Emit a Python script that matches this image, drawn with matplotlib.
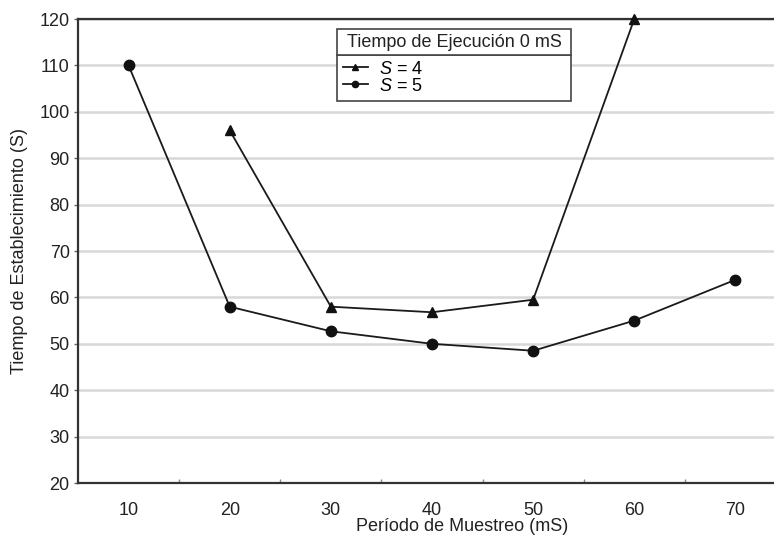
import matplotlib
matplotlib.use("Agg")
import matplotlib.pyplot as plt
from matplotlib.patches import Rectangle

# Data
periodo = [10, 20, 30, 40, 50, 60, 70]
s4_x = [20, 30, 40, 50, 60]
s4_y = [96, 58, 56.8, 59.5, 120]
s5_x = [10, 20, 30, 40, 50, 60, 70]
s5_y = [110, 58, 52.7, 50, 48.5, 55, 63.8]
y_ticks = [20, 30, 40, 50, 60, 70, 80, 90, 100, 110, 120]
x_labels = ["10", "20", "30", "40", "50", "60", "70"]

plt.rcParams['font.family'] = ['Liberation Sans', 'DejaVu Sans']
plt.rcParams['mathtext.fontset'] = 'custom'
plt.rcParams['mathtext.it'] = 'Liberation Sans:italic'
plt.rcParams['mathtext.rm'] = 'Liberation Sans'

W, H = 774, 538
fig = plt.figure(figsize=(W / 100, H / 100), dpi=100)

def fx(px):
    return px / W

def fy(py):
    return 1 - py / H

left, right, top, bottom = 78, 786, 19, 483
ax = fig.add_axes([fx(left), fy(bottom), fx(right) - fx(left), fy(top) - fy(bottom)])

spine_col = "#333333"
for side in ["left", "top", "bottom"]:
    ax.spines[side].set_color(spine_col)
    ax.spines[side].set_linewidth(1.6)
ax.spines["right"].set_visible(False)

ax.set_xlim(5, 75)
ax.set_ylim(20, 120)
ax.set_yticks(y_ticks)
ax.yaxis.grid(True, color="#d8d8d8", linewidth=1.8)
ax.set_axisbelow(True)

ax.set_xticks(periodo)
ax.set_xticklabels(x_labels)
ax.set_xticks([15, 25, 35, 45, 55, 65], minor=True)
ax.tick_params(axis="x", which="major", length=0, pad=14, labelsize=13, labelcolor="#222222")
ax.tick_params(axis="x", which="minor", length=3, width=1, color="#888888", direction="in")
ax.tick_params(axis="y", length=3, width=1, color="#666666", labelsize=13, labelcolor="#222222", pad=3)

l4, = ax.plot(s4_x, s4_y, color="#1a1a1a", linewidth=1.3, marker="^", markersize=7.5,
              markerfacecolor="#111111", markeredgecolor="#111111", clip_on=False, zorder=3)
l5, = ax.plot(s5_x, s5_y, color="#1a1a1a", linewidth=1.3, marker="o", markersize=7.5,
              markerfacecolor="#111111", markeredgecolor="#111111", clip_on=False, zorder=3)

ax.set_xlabel("Período de Muestreo (mS)", fontsize=13, color="#222222")
ax.xaxis.set_label_coords((462 - left) / (right - left), -0.075)
fig.text(fx(20), fy(251), "Tiempo de Establecimiento (S)", rotation=90, fontsize=13,
         color="#222222", ha="center", va="center")

# Legend header
hx0, hx1, hy0, hy1 = 337, 571, 29, 55
fig.patches.append(Rectangle((fx(hx0), fy(hy1)), fx(hx1) - fx(hx0), fy(hy0) - fy(hy1),
                             transform=fig.transFigure, facecolor="white",
                             edgecolor="#444444", linewidth=1.2, zorder=5))
fig.text((fx(hx0) + fx(hx1)) / 2, (fy(hy0) + fy(hy1)) / 2 - 0.001, "Tiempo de Ejecución 0 mS",
         ha="center", va="center", fontsize=13, color="#222222", zorder=6)

leg = ax.legend([l4, l5], [r"$\mathit{S}$ = 4", r"$\mathit{S}$ = 5"],
                loc="upper left",
                bbox_to_anchor=(fx(hx0), fy(99), fx(hx1) - fx(hx0), fy(hy1) - fy(99)),
                bbox_transform=fig.transFigure, mode="expand", borderaxespad=0,
                fancybox=False, frameon=True, edgecolor="#444444", framealpha=1,
                fontsize=13, handlelength=1.4, handletextpad=0.6, labelspacing=0.0,
                borderpad=0.32, markerscale=0.6)
leg.get_frame().set_linewidth(1.2)
leg.set_zorder(5)

fig.savefig("out.png", dpi=100)
